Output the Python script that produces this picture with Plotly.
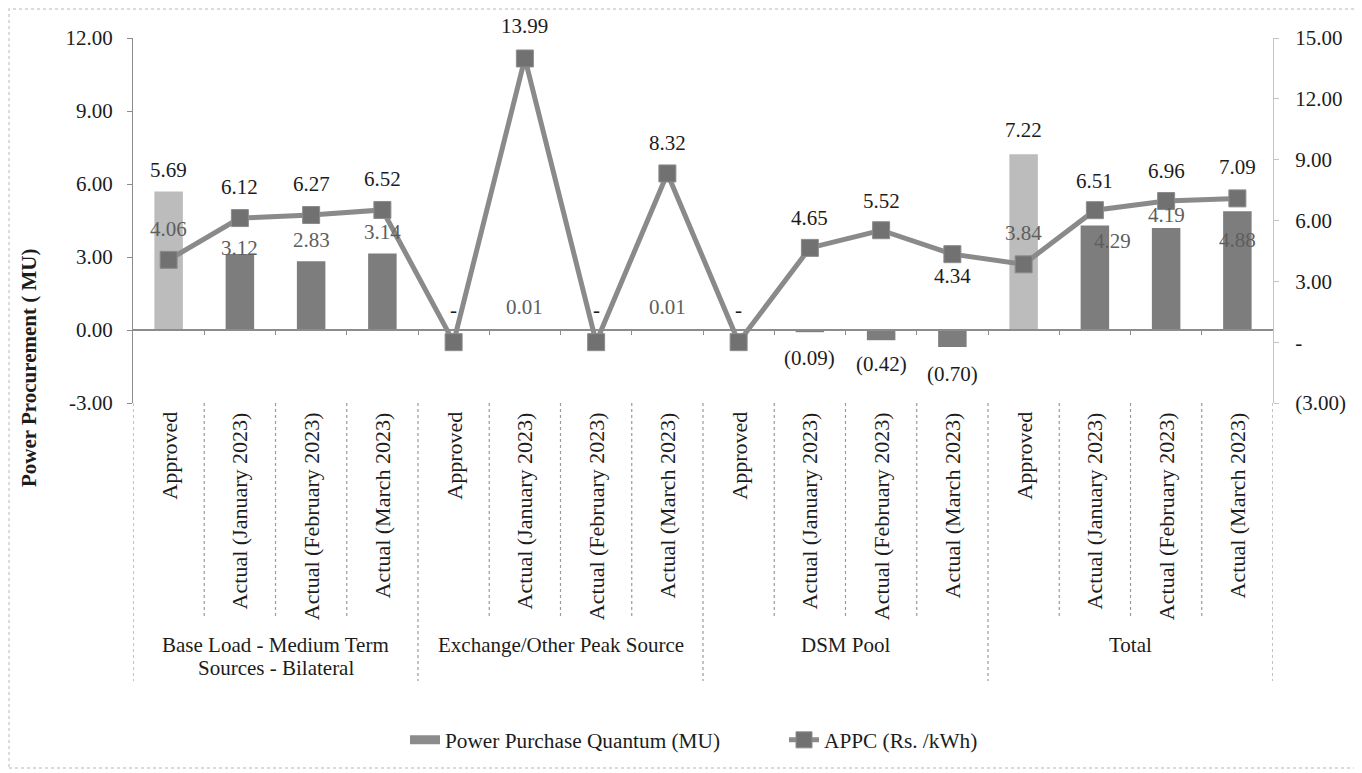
import plotly.graph_objects as go

# ---------------- data ----------------
groups = ["Base Load - Medium Term<br>Sources - Bilateral",
          "Exchange/Other Peak Source", "DSM Pool", "Total"]
subcats = ["Approved", "Actual (January 2023)", "Actual (February 2023)", "Actual (March 2023)"]
quantum_mu = [5.69, 3.12, 2.83, 3.14,
              0.00, 0.01, 0.00, 0.01,
              0.00, -0.09, -0.42, -0.70,
              7.22, 4.29, 4.19, 4.88]
appc_rs_kwh = [4.06, 6.12, 6.27, 6.52,
               0.00, 13.99, 0.00, 8.32,
               0.00, 4.65, 5.52, 4.34,
               3.84, 6.51, 6.96, 7.09]
left_ticks = [-3, 0, 3, 6, 9, 12]
right_ticks = [-3, 0, 3, 6, 9, 12, 15]

# ---------------- styling ----------------
OFF = 8                      # page body margin of the browser
W, H = 1362 - OFF, 773 - OFF
ML, MR, MT, MB = 133 - OFF, 89, 38 - OFF, 370
PW, PH = W - ML - MR, H - MT - MB
SERIF = "Liberation Serif"
DARK = "#1c1c1c"
GREY_TXT = "#5e5e5e"
BAR_ACT = "#7d7d7d"
BAR_APP = "#bcbcbc"
LINE_C = "#8a8a8a"
MARK_C = "#717171"

n_sub = len(subcats)
labels_flat = [s for g in groups for s in subcats]
idx = list(range(len(labels_flat)))
bar_colors = [BAR_APP if s == "Approved" else BAR_ACT for s in labels_flat]

# label pixel offsets (styling): positive = above value
bar_lbl_shift = [22, 6, 21, 22, 20, 23, 20, 23, 20, -26, -24, -27, 24, -15, 13, -29]
bar_lbl_xshift = [0] * 16
bar_lbl_xshift[13] = 18
bar_lbl_color = [DARK, GREY_TXT, GREY_TXT, GREY_TXT, DARK, GREY_TXT, DARK, GREY_TXT,
                 DARK, DARK, DARK, DARK, DARK, GREY_TXT, GREY_TXT, GREY_TXT]
line_lbl_shift = [31, 31, 31, 31, 0, 32, 0, 30, 0, 30, 29, -22, 31, 29, 30, 31]
line_lbl_color = [GREY_TXT] + [DARK] * 11 + [GREY_TXT] + [DARK] * 3


def fmt(v):
    if abs(v) < 1e-9:
        return "-"
    if v < 0:
        return "({:.2f})".format(-v)
    return "{:.2f}".format(v)


def py(page_y):
    """page pixel y -> paper fraction"""
    return (OFF + MT + PH - page_y) / PH


def px(page_x):
    return (page_x - OFF - ML) / PW


fig = go.Figure()
fig.add_trace(go.Bar(
    x=idx, y=quantum_mu, name="Power Purchase Quantum (MU)",
    marker=dict(color=bar_colors, line=dict(width=0)),
    width=0.4, yaxis="y", hoverinfo="skip", showlegend=False,
))
# legend entry for the bars (wide flat swatch as in the reference)
fig.add_trace(go.Scatter(
    x=[None], y=[None], name="Power Purchase Quantum (MU)", mode="lines",
    line=dict(color="#8c8c8c", width=9), yaxis="y", hoverinfo="skip",
))
fig.add_trace(go.Scatter(
    x=idx, y=appc_rs_kwh, name="APPC (Rs. /kWh)", yaxis="y2",
    mode="lines+markers",
    line=dict(color=LINE_C, width=5),
    marker=dict(symbol="square", size=17, color=MARK_C, line=dict(color="#8c8c8c", width=1)),
    hoverinfo="skip",
))

annotations = []
for i, v in enumerate(quantum_mu):
    annotations.append(dict(
        x=i, y=v, xref="x", yref="y", text=fmt(v), showarrow=False,
        yshift=bar_lbl_shift[i], xshift=bar_lbl_xshift[i],
        font=dict(family=SERIF, size=21, color=bar_lbl_color[i]),
        xanchor="center", yanchor="middle"))
for i, v in enumerate(appc_rs_kwh):
    if abs(v) < 1e-9:
        continue
    annotations.append(dict(
        x=i, y=v, xref="x", yref="y2", text=fmt(v), showarrow=False,
        yshift=line_lbl_shift[i],
        font=dict(family=SERIF, size=21, color=line_lbl_color[i]),
        xanchor="center", yanchor="middle"))

for i, s in enumerate(labels_flat):
    annotations.append(dict(
        x=i, y=py(410), xref="x", yref="paper", text=s, showarrow=False,
        textangle=-90, xanchor="center", yanchor="top",
        font=dict(family=SERIF, size=22, color=DARK)))

for g_i, g in enumerate(groups):
    centre = g_i * n_sub + (n_sub - 1) / 2
    for l_i, line_txt in enumerate(g.split("<br>")):
        annotations.append(dict(
            x=centre, y=py(645 + 23 * l_i), xref="x", yref="paper", text=line_txt,
            showarrow=False, xanchor="center", yanchor="middle",
            font=dict(family=SERIF, size=21, color=DARK)))

annotations.append(dict(
    x=px(29), y=py(368), xref="paper", yref="paper",
    text="<b>Power Procurement ( MU)</b>", showarrow=False, textangle=-90,
    xanchor="center", yanchor="middle",
    font=dict(family=SERIF, size=21, color=DARK)))

shapes = []
for k in range(len(labels_flat) + 1):
    xb = k - 0.5
    long_line = (k % n_sub == 0)
    shapes.append(dict(
        type="line", xref="x", yref="paper", x0=xb, x1=xb,
        y0=0, y1=py(681 if long_line else 618),
        line=dict(color="#9a9a9a", width=1.2, dash="dot")))
shapes.append(dict(
    type="rect", xref="paper", yref="paper",
    x0=px(9), x1=px(1355), y0=py(768), y1=py(9),
    line=dict(color="#cfcfcf", width=1.5, dash="dot")))

zero_pos = (0 - left_ticks[0]) / (left_ticks[-1] - left_ticks[0])

fig.update_layout(
    width=W, height=H,
    margin=dict(l=ML, r=MR, t=MT, b=MB),
    paper_bgcolor="white", plot_bgcolor="white",
    font=dict(family=SERIF, size=20, color=DARK),
    showlegend=True,
    legend=dict(orientation="h", x=px(405), xanchor="left", y=py(740), yanchor="middle",
                font=dict(family=SERIF, size=21.3, color=DARK),
                entrywidth=334, entrywidthmode="pixels", itemsizing="trace",
                bgcolor="rgba(0,0,0,0)"),
    bargap=0.6,
    xaxis=dict(range=[-0.5, len(idx) - 0.5], showticklabels=False, showgrid=False,
               zeroline=False, showline=True, linecolor="#8c8c8c", linewidth=1.5,
               anchor="free", position=zero_pos,
               tickmode="array", tickvals=[k + 0.5 for k in idx[:-1]],
               ticks="outside", ticklen=4, tickcolor="#8c8c8c"),
    yaxis=dict(range=[left_ticks[0], left_ticks[-1]], tickmode="array",
               tickvals=left_ticks, ticktext=["{:.2f}".format(t) for t in left_ticks],
               showgrid=False, zeroline=False, showline=True, linecolor="#8c8c8c",
               linewidth=1.2, ticks="outside", ticklen=5, tickcolor="#8c8c8c",
               ticklabelstandoff=10,
               tickfont=dict(family=SERIF, size=21, color=DARK)),
    yaxis2=dict(range=[right_ticks[0], right_ticks[-1]], overlaying="y", side="right",
                tickmode="array", tickvals=right_ticks,
                ticktext=[fmt(t) for t in right_ticks],
                showgrid=False, zeroline=False, showline=True, linecolor="#c4c4c4",
                linewidth=1.2, ticks="outside", ticklen=5, tickcolor="#c4c4c4",
                ticklabelstandoff=12,
                tickfont=dict(family=SERIF, size=21, color=DARK)),
    annotations=annotations,
    shapes=shapes,
)

fig.write_html("out.html")
